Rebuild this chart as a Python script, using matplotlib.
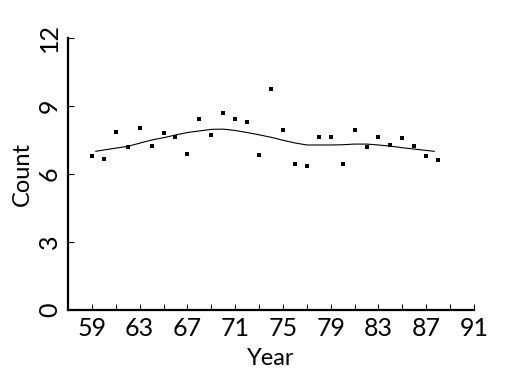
import numpy as np
import matplotlib.pyplot as plt

# yearly counts
years = [59, 60, 61, 62, 63, 64, 65, 66, 67, 68, 69, 70, 71, 72, 73,
         74, 75, 76, 77, 78, 79, 80, 81, 82, 83, 84, 85, 86, 87, 88]
counts = [6.79, 6.67, 7.84, 7.18, 8.01, 7.23, 7.79, 7.62, 6.87, 8.43,
          7.71, 8.69, 8.43, 8.29, 6.82, 9.75, 7.93, 6.46, 6.34, 7.62,
          7.65, 6.44, 7.93, 7.18, 7.62, 7.28, 7.59, 7.22, 6.79, 6.60]

# smoothed curve
smooth_x = [59.33, 60, 61, 62, 63, 64, 65, 66, 67, 68, 69, 70, 71, 72, 73,
            74, 75, 76, 77, 78, 79, 80, 81, 82, 83, 84, 85, 86, 87, 87.67]
smooth_y = [7.00, 7.06, 7.14, 7.22, 7.36, 7.50, 7.60, 7.72, 7.83, 7.90,
            7.97, 7.98, 7.92, 7.83, 7.73, 7.62, 7.49, 7.37, 7.28, 7.28,
            7.28, 7.29, 7.32, 7.32, 7.28, 7.23, 7.16, 7.10, 7.04, 7.00]

xticks = np.arange(59, 92, 4)
yticks = [0, 3, 6, 9, 12]

plt.rcParams['font.family'] = ['Lato', 'DejaVu Sans']

fig = plt.figure(figsize=(5.25, 3.75), dpi=100)
ax = fig.add_axes([68/525, 65/375, 406/525, 272/375])

ax.plot(smooth_x, smooth_y, color='black', lw=0.8)
ax.plot(years, counts, 's', color='black', ms=2.4, mew=0)

ax.set_xlim(57, 91)
ax.set_ylim(0, 12)
ax.spines['top'].set_visible(False)
ax.spines['right'].set_visible(False)
ax.spines['left'].set_linewidth(1.6)
ax.spines['bottom'].set_linewidth(1.6)

ax.set_xticks(xticks)
ax.set_xticks(np.arange(61, 91, 4), minor=True)
ax.set_yticks(yticks)
ax.tick_params(which='both', direction='in', length=4, width=0.8, labelsize=18, pad=5)
for lab in ax.get_yticklabels():
    lab.set_rotation(90)
    lab.set_va('center')

ax.set_xlabel('Year', fontsize=17, labelpad=6)
ax.set_ylabel('Count', fontsize=17, labelpad=4)

fig.savefig('out.png', dpi=100)
